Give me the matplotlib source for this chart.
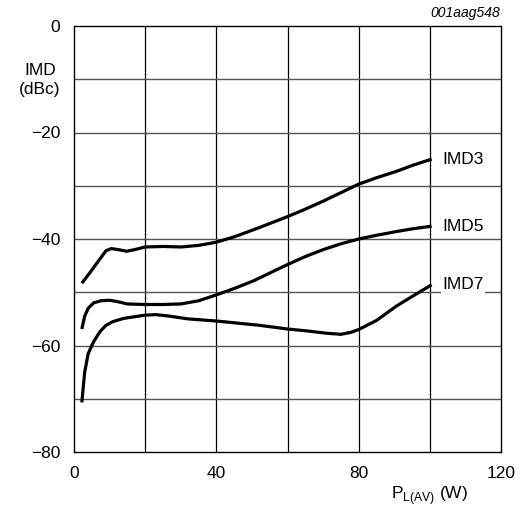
import matplotlib.pyplot as plt

plt.rcParams['font.family'] = ['Liberation Sans', 'DejaVu Sans']
plt.rcParams['mathtext.fontset'] = 'custom'
plt.rcParams['mathtext.rm'] = 'Liberation Sans'

# IMD3 curve
imd3_x = [2.2, 4.5, 7, 9, 10.5, 12.5, 14.8, 17, 20, 25, 30, 35, 40, 45, 50.3,
          55, 60, 65, 70, 75, 80, 85, 90.6, 95, 100.5]
imd3_y = [-48.3, -46.3, -44.0, -42.2, -41.8, -42.0, -42.3, -42.0, -41.5, -41.4,
          -41.5, -41.2, -40.6, -39.6, -38.3, -37.1, -35.8, -34.4, -32.9, -31.3,
          -29.7, -28.5, -27.3, -26.2, -25.0]

# IMD5 curve
imd5_x = [2.2, 3, 4, 5.5, 7.5, 10, 12.5, 15, 20, 25, 30, 35, 40, 45, 50.3,
          55, 60, 65, 70, 75, 80, 85, 90.6, 95, 100.5]
imd5_y = [-56.9, -54.5, -53.0, -52.0, -51.6, -51.5, -51.8, -52.2, -52.3, -52.3,
          -52.2, -51.6, -50.5, -49.3, -47.9, -46.4, -44.8, -43.3, -42.0, -40.9,
          -40.0, -39.3, -38.6, -38.1, -37.6]

# IMD7 curve
imd7_x = [2.2, 3, 4, 5.5, 7.3, 9, 11, 14, 17, 20, 23, 27, 32, 40, 46, 52, 60,
          66, 71, 75, 78, 80, 85, 90.6, 95, 100.5]
imd7_y = [-70.7, -65.0, -61.5, -59.3, -57.4, -56.2, -55.5, -54.9, -54.6, -54.3,
          -54.2, -54.5, -55.0, -55.4, -55.8, -56.2, -56.9, -57.3, -57.7, -57.9,
          -57.5, -57.0, -55.3, -52.6, -50.8, -48.6]

series = [("IMD3", imd3_x, imd3_y), ("IMD5", imd5_x, imd5_y), ("IMD7", imd7_x, imd7_y)]

x_ticks = [0, 40, 80, 120]
y_ticks = [0, -20, -40, -60, -80]

fig = plt.figure(figsize=(5.2, 5.09), dpi=100)
ax = fig.add_axes([74 / 520, 1 - 452 / 509, 427 / 520, 426 / 509])

# grid lines
for gx in range(20, 120, 20):
    ax.axvline(gx, color="black", linewidth=0.9, zorder=1)
for gy in range(-70, 0, 10):
    ax.axhline(gy, color="#555555", linewidth=1.0, zorder=1)

for name, xs, ys in series:
    ax.plot(xs, ys, color="black", linewidth=2.3, solid_capstyle="butt",
            solid_joinstyle="round", zorder=3)
    ax.text(xs[-1] + 3, ys[-1], name, fontsize=12.5, va="center", ha="left",
            bbox=dict(facecolor="white", edgecolor="none", pad=1), zorder=4)

ax.set_xlim(0, 120)
ax.set_ylim(-80, 0)
ax.set_xticks(x_ticks)
ax.set_yticks(y_ticks)
ax.set_xticklabels([str(v) for v in x_ticks])
ax.set_yticklabels([str(v).replace("-", "\u2212") for v in y_ticks])
ax.tick_params(length=0, labelsize=12.5, pad=10)
for sp in ax.spines.values():
    sp.set_linewidth(1.0)

fig.text(40 / 520, 1 - 80 / 509, "IMD\n(dBc)", fontsize=12.5, ha="center",
         va="center", linespacing=1.3)
ax.text(100, -88.2, r"P$_{\mathrm{L(AV)}}$ (W)", fontsize=12.5, ha="center",
        va="center", clip_on=False)
fig.text(500 / 520, 1 - 13 / 509, "001aag548", fontsize=10, style="italic",
         ha="right", va="center")

fig.savefig("out.png", dpi=100)
